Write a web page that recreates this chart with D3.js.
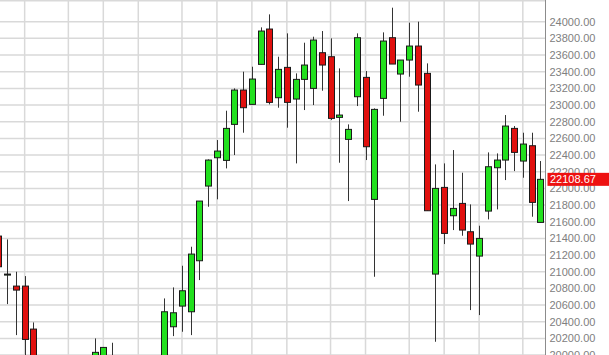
<!DOCTYPE html>
<html>
<head>
<meta charset="utf-8">
<script src="https://cdn.jsdelivr.net/npm/d3@7"></script>
<style>
  html, body { margin: 0; padding: 0; background: #fff; }
  svg { display: block; }
</style>
</head>
<body>
<svg id="chart" width="609" height="355"></svg>
<script>
// Weekly OHLC data (week index 0..62)
const opens  = [21428,20972,20828,20828,20312,19850,19600,19420,19650,19500,19720,19800,19850,19950,19700,19550,19400,19650,19600,19800,
                20340,20588,20520,21132,22028,22368,22336,22768,23180,23008,23488,23912,23088,23452,23072,23308,23200,23628,23580,22852,
                22588,23100,23332,21868,23080,23808,23372,23540,23708,23380,20972,22012,21672,21820,21480,21188,21728,22248,22340,22720,
                22328,22512,21592];
const highs  = [21500,21388,21000,20948,20392,19950,19800,19700,19900,19800,19950,20200,20092,20148,19900,19800,19750,19900,19950,20680,
                20812,21072,21300,21848,22348,22580,22932,23200,23400,23460,23932,24088,23580,23860,23380,23748,23820,23888,23800,23440,
                22768,23860,23408,22960,23872,24168,23540,23988,24000,23500,22288,22300,22460,22188,21808,21552,22432,22420,22880,22748,
                22668,22668,22328];
const lows   = [20980,20612,20240,19800,19750,19500,19300,19250,19400,19350,19550,19700,19700,19600,19450,19300,19200,19500,19450,19700,
                20228,20280,20240,20900,21780,21869,22240,22400,22668,23008,23488,23008,22968,22728,22300,22940,23000,23172,22820,22308,
                21848,22988,22340,20940,22872,23492,22800,23340,22920,21732,20160,21332,21500,21432,20540,20480,21628,21748,22100,22208,
                22128,21660,21592];
const closes = [21060,20972,20780,20188,19850,19600,19420,19650,19500,19720,19800,20033,20092,19700,19550,19400,19650,19600,19800,20520,
                20508,20772,21212,21848,22340,22448,22720,23180,22968,23312,23888,23032,23428,23032,23308,23480,23780,23480,22840,22880,
                22708,23808,22500,22948,23768,23492,23540,23708,23240,21732,22000,21460,21760,21500,21332,21400,22260,22340,22748,22432,
                22532,21832,22108.67];
// Weeks where a new month starts (vertical grid lines)
const monthStartWeeks = [3,8,12,16,21,25,29,33,38,42,47,51,55,60];
// Price axis ticks
const priceTicks = d3.range(20000, 24001, 200);
const lastPrice = 22108.67;

const W = 609, H = 355;
const plotRight = 545.5;
const svg = d3.select("#chart");

const y = d3.scaleLinear().domain([20000, 24000]).range([355.1, 21.7]);
const x = d3.scaleLinear().domain([0, opens.length - 1]).range([-1.56, 540.3]);

const data = opens.map((o, i) => ({i, o, h: highs[i], l: lows[i], c: closes[i]}));

svg.append("defs").append("clipPath").attr("id", "plotclip")
  .append("rect").attr("x", 0).attr("y", 0).attr("width", plotRight).attr("height", H);

const grid = svg.append("g");
// horizontal grid
grid.selectAll("line.h").data(priceTicks).join("line")
  .attr("x1", 0).attr("x2", plotRight)
  .attr("y1", d => y(d)).attr("y2", d => y(d))
  .attr("stroke", "#d9d9d9").attr("stroke-width", 1.5);
// top border
grid.append("line").attr("x1", 0).attr("x2", plotRight).attr("y1", 0.75).attr("y2", 0.75)
  .attr("stroke", "#d9d9d9").attr("stroke-width", 1.5);
// vertical grid
grid.selectAll("line.v").data(monthStartWeeks).join("line")
  .attr("x1", d => x(d)).attr("x2", d => x(d))
  .attr("y1", 0).attr("y2", H)
  .attr("stroke", "#d9d9d9").attr("stroke-width", 1.5);

const plot = svg.append("g").attr("clip-path", "url(#plotclip)");
const bw = 6;
// wicks
plot.selectAll("line.wick").data(data).join("line")
  .attr("x1", d => Math.round(x(d.i)) + 0.5).attr("x2", d => Math.round(x(d.i)) + 0.5)
  .attr("y1", d => y(d.h)).attr("y2", d => y(d.l))
  .attr("stroke", "#333").attr("stroke-width", 1);
// bodies
plot.selectAll("rect.body").data(data).join("rect")
  .attr("x", d => Math.round(x(d.i)) + 0.5 - bw / 2)
  .attr("y", d => y(Math.max(d.o, d.c)))
  .attr("width", bw)
  .attr("height", d => Math.max(1, y(Math.min(d.o, d.c)) - y(Math.max(d.o, d.c))))
  .attr("fill", d => d.c >= d.o ? "#22e01e" : "#e0100e")
  .attr("stroke", "#1a1a1a").attr("stroke-width", 1);

// right axis
const axis = d3.axisRight(y).tickValues(priceTicks).tickFormat(d3.format(".2f")).tickSize(0).tickPadding(4);
const ag = svg.append("g").attr("transform", `translate(${plotRight},0)`).call(axis);
ag.select(".domain").remove();
ag.selectAll("text").attr("fill", "#808080").attr("font-family", "Liberation Sans, Arial, sans-serif").attr("font-size", 11);
svg.append("line").attr("x1", plotRight).attr("x2", plotRight).attr("y1", 0).attr("y2", H)
  .attr("stroke", "#8c8c8c").attr("stroke-width", 1);

// last price label
const lp = svg.append("g").attr("transform", `translate(${plotRight + 2},${y(lastPrice)})`);
lp.append("rect").attr("x", 0).attr("y", -6.5).attr("width", W - plotRight - 2).attr("height", 13).attr("fill", "#ee1111");
lp.append("text").attr("x", 2.5).attr("y", 0).attr("dy", "0.35em")
  .attr("fill", "#fff").attr("font-family", "Liberation Sans, Arial, sans-serif").attr("font-size", 11)
  .text(d3.format(".2f")(lastPrice));
</script>
</body>
</html>
